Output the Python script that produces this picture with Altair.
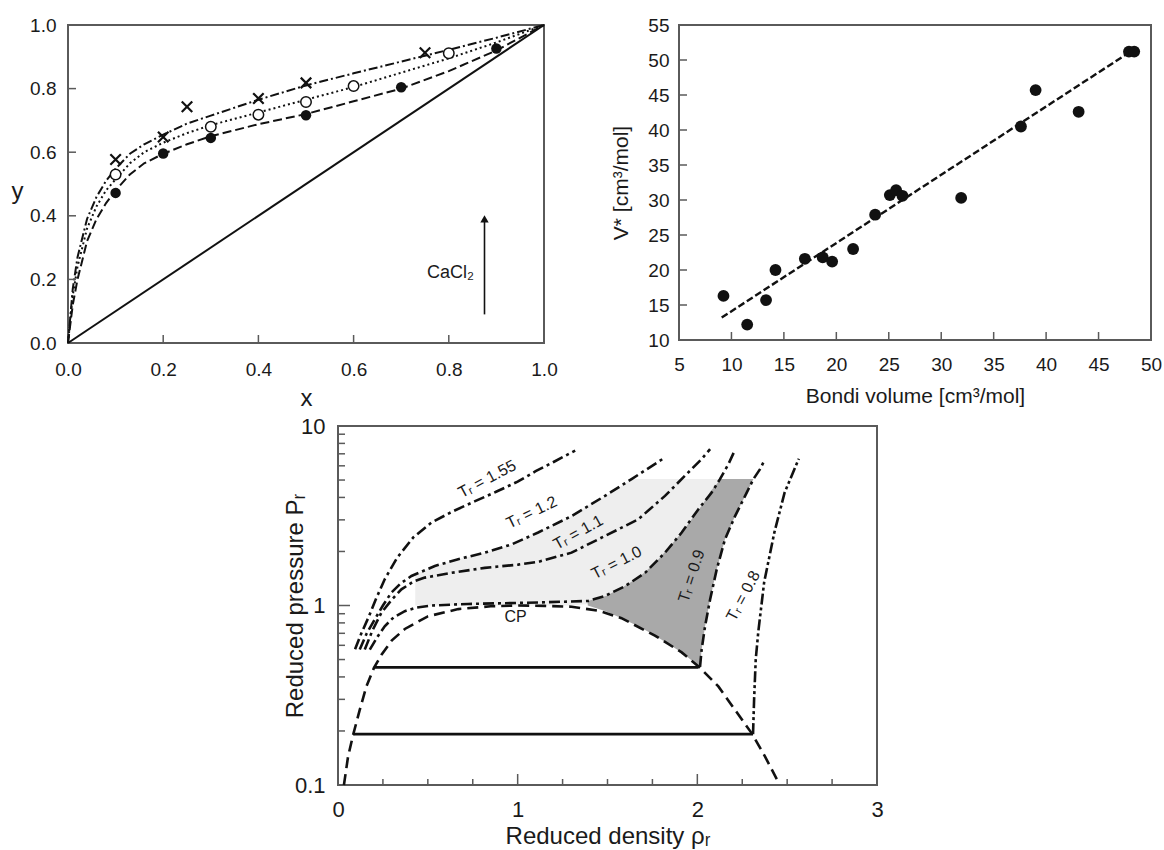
import altair as alt
import pandas as pd

FONT = "Liberation Sans"
TXT = "#1a1a1a"
FRAME = "#5a5a5a"
INK = "#111111"

# ---------------- Panel 1 : y-x diagram ----------------
p1_curve_x = [0, 0.01, 0.02, 0.04, 0.06, 0.08, 0.10, 0.13, 0.16, 0.20, 0.25, 0.30, 0.40, 0.50, 0.60, 0.70, 0.80, 0.90, 1.0]
p1_dashed_y = [0, 0.12, 0.20, 0.32, 0.39, 0.44, 0.48, 0.53, 0.565, 0.595, 0.625, 0.65, 0.688, 0.72, 0.76, 0.80, 0.855, 0.92, 1.0]
p1_dotted_y = [0, 0.15, 0.24, 0.36, 0.43, 0.48, 0.515, 0.565, 0.60, 0.63, 0.66, 0.685, 0.725, 0.765, 0.805, 0.85, 0.895, 0.945, 1.0]
p1_dashdot_y = [0, 0.17, 0.27, 0.39, 0.46, 0.51, 0.548, 0.595, 0.625, 0.655, 0.69, 0.715, 0.765, 0.81, 0.848, 0.885, 0.922, 0.96, 1.0]
diag_x = [0, 1]
diag_y = [0, 1]
filled_x = [0.1, 0.2, 0.3, 0.5, 0.7, 0.9]
filled_y = [0.472, 0.596, 0.645, 0.716, 0.804, 0.926]
open_x = [0.1, 0.3, 0.4, 0.5, 0.6, 0.8]
open_y = [0.530, 0.680, 0.718, 0.758, 0.808, 0.911]
cross_x = [0.1, 0.2, 0.25, 0.4, 0.5, 0.75]
cross_y = [0.577, 0.648, 0.743, 0.769, 0.818, 0.913]
p1_ticks = [0.0, 0.2, 0.4, 0.6, 0.8, 1.0]
p1_inner_ticks = [0.2, 0.4, 0.6, 0.8]
arrow_x = [0.875]
arrow_y0 = [0.09]
arrow_y1 = [0.385]
arrow_head_y = [0.39]
salt_label = ["CaCl₂"]
salt_x = [0.853]
salt_y = [0.22]

# ---------------- Panel 2 : V* vs Bondi volume ----------------
bondi = [9.24, 11.5, 13.3, 14.2, 17.0, 18.7, 19.6, 21.6, 23.7, 25.1, 25.7, 26.3, 31.9, 37.6, 39.0, 43.1, 47.9, 48.4]
vstar = [16.3, 12.2, 15.7, 20.0, 21.6, 21.8, 21.2, 23.0, 27.9, 30.7, 31.4, 30.6, 30.3, 40.5, 45.7, 42.6, 51.2, 51.2]
fit_x = [9.07, 48.05]
fit_y = [13.2, 51.2]
p2_xticks = [5, 10, 15, 20, 25, 30, 35, 40, 45, 50]
p2_yticks = [10, 15, 20, 25, 30, 35, 40, 45, 50, 55]

# ---------------- Panel 3 : reduced P vs reduced density ----------------
coex_x = [0.033, 0.056, 0.084, 0.121, 0.158, 0.20, 0.241, 0.30, 0.372, 0.50, 0.669, 0.85, 1.0, 1.15, 1.30, 1.45, 1.578, 1.764, 1.913, 2.01, 2.117, 2.21, 2.303, 2.377, 2.448]
coex_y = [0.10, 0.144, 0.19, 0.262, 0.354, 0.449, 0.53, 0.64, 0.74, 0.87, 0.955, 0.99, 1.0, 0.995, 0.985, 0.935, 0.85, 0.68, 0.548, 0.455, 0.354, 0.262, 0.194, 0.144, 0.105]
t155_x = [0.095, 0.13, 0.17, 0.21, 0.26, 0.33, 0.42, 0.52, 0.64, 0.76, 0.88, 1.0, 1.1, 1.2, 1.32]
t155_y = [0.57, 0.70, 0.86, 1.08, 1.40, 1.85, 2.4, 2.9, 3.35, 3.8, 4.3, 4.9, 5.6, 6.3, 7.3]
t12_x = [0.121, 0.16, 0.204, 0.25, 0.297, 0.35, 0.409, 0.539, 0.669, 0.817, 0.966, 1.114, 1.30, 1.486, 1.634, 1.82]
t12_y = [0.568, 0.70, 0.835, 1.0, 1.18, 1.33, 1.46, 1.66, 1.81, 1.97, 2.19, 2.55, 3.15, 4.08, 5.06, 6.68]
t11_x = [0.149, 0.19, 0.241, 0.30, 0.353, 0.42, 0.483, 0.631, 0.817, 1.003, 1.114, 1.30, 1.486, 1.671, 1.82, 1.931, 2.024, 2.071]
t11_y = [0.568, 0.72, 0.91, 1.08, 1.23, 1.36, 1.43, 1.52, 1.62, 1.69, 1.75, 1.97, 2.44, 3.02, 4.08, 5.28, 6.54, 7.44]
t10_x = [0.177, 0.22, 0.26, 0.31, 0.372, 0.44, 0.52, 0.724, 0.929, 1.114, 1.393, 1.486, 1.597, 1.709, 1.82, 1.913, 2.006, 2.08, 2.126, 2.173, 2.21]
t10_y = [0.568, 0.67, 0.766, 0.86, 0.93, 0.975, 1.0, 1.02, 1.03, 1.04, 1.06, 1.13, 1.28, 1.52, 1.97, 2.55, 3.44, 4.26, 5.06, 6.13, 7.37]
t09_x = [2.015, 2.024, 2.043, 2.071, 2.108, 2.154, 2.21, 2.266, 2.312, 2.349, 2.377]
t09_y = [0.455, 0.568, 0.766, 1.08, 1.59, 2.34, 3.15, 4.08, 5.06, 5.75, 6.54]
t08_x = [2.31, 2.316, 2.325, 2.339, 2.372, 2.429, 2.486, 2.565]
t08_y = [0.192, 0.30, 0.50, 0.71, 1.35, 2.56, 4.26, 6.58]
tie_x1 = [0.20, 0.084]
tie_x2 = [2.006, 2.31]
tie_y = [0.452, 0.192]
light_x = [0.43, 0.54, 0.67, 0.82, 0.97, 1.11, 1.30, 1.39, 1.49, 1.60, 1.634, 1.71, 1.82, 1.91, 2.006, 2.08, 2.126]
light_lo = [1.0, 1.0, 1.0, 1.0, 1.0, 1.0, 1.0, 1.02, 1.13, 1.28, 1.35, 1.52, 1.97, 2.55, 3.44, 4.26, 5.06]
light_hi = [1.50, 1.66, 1.81, 1.97, 2.19, 2.55, 3.15, 3.6, 4.08, 4.8, 5.06, 5.06, 5.06, 5.06, 5.06, 5.06, 5.06]
dark_x = [1.39, 1.49, 1.578, 1.68, 1.764, 1.85, 1.913, 2.015, 2.024, 2.043, 2.071, 2.108, 2.126, 2.154, 2.21, 2.266, 2.312]
dark_lo = [1.0, 0.93, 0.85, 0.76, 0.68, 0.60, 0.548, 0.455, 0.568, 0.766, 1.08, 1.59, 1.85, 2.34, 3.15, 4.08, 5.06]
dark_hi = [1.06, 1.13, 1.25, 1.45, 1.72, 2.15, 2.55, 3.5, 3.6, 3.85, 4.3, 4.75, 5.06, 5.06, 5.06, 5.06, 5.06]
iso_labels = ["Tᵣ = 1.55", "Tᵣ = 1.2", "Tᵣ = 1.1", "Tᵣ = 1.0", "Tᵣ = 0.9", "Tᵣ = 0.8"]
iso_label_x = [0.83, 1.078, 1.337, 1.551, 1.968, 2.256]
iso_label_y = [5.06, 3.3, 2.55, 1.73, 1.46, 1.13]
iso_label_angle = [332, 334, 331, 333, 288, 298]
cp_x = [0.988]
cp_y = [0.865]
p3_xticks = [0, 1, 2, 3]
p3_yticks = [0.1, 1, 10]
p3_xminor = [0.25, 0.5, 0.75, 1.25, 1.5, 1.75, 2.25, 2.5, 2.75]
p3_xmajor = [1, 2]
p3_yminor = [0.2, 0.3, 0.4, 0.5, 0.6, 0.7, 0.8, 0.9, 2, 3, 4, 5, 6, 7, 8, 9]
p3_ymajor = [1]


def df(**cols):
    return pd.DataFrame(cols)


def make_axis(values, fmt, title, lsize, tsize, **kw):
    return alt.Axis(values=values, format=fmt, title=title, ticks=False, domain=False, grid=False,
                    labelFont=FONT, titleFont=FONT, labelFontSize=lsize, titleFontSize=tsize,
                    labelColor=TXT, titleColor=TXT, titleFontWeight="normal",
                    labelFlush=False, labelOverlap=False, **kw)


# ======== Panel 1 ========
W1, H1 = 476, 318
ax1x = make_axis(p1_ticks, ".1f", "x", 19, 24, labelBaseline="alphabetic", labelPadding=32,
                 titleBaseline="alphabetic", titleX=W1 / 2, titleY=62)
ax1y = make_axis(p1_ticks, ".1f", "y", 19, 24, labelPadding=12, titleAngle=0, titleAlign="center",
                 titleBaseline="middle", titleX=-51, titleY=166)
X1 = alt.X("x:Q", scale=alt.Scale(domain=[0, 1], nice=False), axis=ax1x)
Y1 = alt.Y("y:Q", scale=alt.Scale(domain=[0, 1], nice=False), axis=ax1y)

p1_layers = [
    alt.Chart(df(x=diag_x, y=diag_y)).mark_line(color=INK, strokeWidth=2).encode(x=X1, y=Y1),
    alt.Chart(df(x=p1_curve_x, y=p1_dashed_y)).mark_line(color=INK, strokeWidth=2, strokeDash=[9, 4]).encode(x=X1, y=Y1),
    alt.Chart(df(x=p1_curve_x, y=p1_dotted_y)).mark_line(color=INK, strokeWidth=2, strokeDash=[2, 3]).encode(x=X1, y=Y1),
    alt.Chart(df(x=p1_curve_x, y=p1_dashdot_y)).mark_line(color=INK, strokeWidth=2, strokeDash=[9, 3, 2, 3]).encode(x=X1, y=Y1),
    alt.Chart(df(x=filled_x, y=filled_y)).mark_point(shape="circle", filled=True, color=INK, size=110, opacity=1).encode(x=X1, y=Y1),
    alt.Chart(df(x=open_x, y=open_y)).mark_point(shape="circle", filled=True, fill="white", stroke=INK, strokeWidth=1.5, size=110, opacity=1).encode(x=X1, y=Y1),
    alt.Chart(df(x=cross_x, y=cross_y)).mark_point(shape="M-1,-1L1,1M-1,1L1,-1", filled=False, stroke=INK, strokeWidth=2.2, size=110, opacity=1).encode(x=X1, y=Y1),
    alt.Chart(df(x=p1_inner_ticks)).mark_rule(color=FRAME, strokeWidth=1.5).encode(x=X1, y=alt.value(H1), y2=alt.value(H1 - 8)),
    alt.Chart(df(y=p1_inner_ticks)).mark_rule(color=FRAME, strokeWidth=1.5).encode(y=Y1, x=alt.value(0), x2=alt.value(8)),
    alt.Chart(df(x=arrow_x, y=arrow_y0, y2=arrow_y1)).mark_rule(color=INK, strokeWidth=1.6).encode(x=X1, y=Y1, y2="y2:Q"),
    alt.Chart(df(x=arrow_x, y=arrow_head_y)).mark_point(shape="triangle-up", filled=True, color=INK, size=70, opacity=1).encode(x=X1, y=Y1),
    alt.Chart(df(x=salt_x, y=salt_y, t=salt_label)).mark_text(align="right", baseline="middle", font=FONT, fontSize=18, color=TXT).encode(x=X1, y=Y1, text="t:N"),
]
p1 = alt.layer(*p1_layers).properties(width=W1, height=H1)

# ======== Panel 2 ========
W2, H2 = 472, 315
ax2x = make_axis(p2_xticks, "d", "Bondi volume [cm³/mol]", 19, 21, labelBaseline="alphabetic", labelPadding=30,
                 titleBaseline="alphabetic", titleX=W2 / 2, titleY=62)
ax2y = make_axis(p2_yticks, "d", "V* [cm³/mol]", 19, 21, labelPadding=10, titleX=-58, titleY=H2 / 2,
                 titleBaseline="middle", titleAlign="center")
X2 = alt.X("x:Q", scale=alt.Scale(domain=[5, 50], nice=False), axis=ax2x)
Y2 = alt.Y("y:Q", scale=alt.Scale(domain=[10, 55], nice=False), axis=ax2y)
p2_layers = [
    alt.Chart(df(x=fit_x, y=fit_y)).mark_line(color=INK, strokeWidth=2.4, strokeDash=[7, 3]).encode(x=X2, y=Y2),
    alt.Chart(df(x=bondi, y=vstar)).mark_point(shape="circle", filled=True, color=INK, size=140, opacity=1).encode(x=X2, y=Y2),
    alt.Chart(df(x=p2_xticks[1:-1])).mark_rule(color=FRAME, strokeWidth=1.5).encode(x=X2, y=alt.value(H2), y2=alt.value(H2 - 8)),
    alt.Chart(df(y=p2_yticks[1:-1])).mark_rule(color=FRAME, strokeWidth=1.5).encode(y=Y2, x=alt.value(0), x2=alt.value(8)),
]
p2 = alt.layer(*p2_layers).properties(width=W2, height=H2)

# ======== Panel 3 ========
W3, H3 = 539, 359
ax3x = make_axis(p3_xticks, "d", "Reduced density ρᵣ", 22, 24, labelBaseline="alphabetic", labelPadding=31,
                 titleBaseline="alphabetic", titleX=W3 / 2, titleY=58)
ax3y = make_axis(p3_yticks, "~g", "Reduced pressure Pᵣ", 22, 24, labelPadding=13, titleX=-43, titleY=H3 / 2,
                 titleBaseline="middle", titleAlign="center")
X3 = alt.X("x:Q", scale=alt.Scale(domain=[0, 3], nice=False), axis=ax3x)
Y3 = alt.Y("y:Q", scale=alt.Scale(type="log", domain=[0.1, 10], nice=False), axis=ax3y)

iso_style = dict(color=INK, strokeWidth=2.6, strokeDash=[11, 4, 3, 4])
p3_layers = [
    alt.Chart(df(x=light_x, y=light_lo, y2=light_hi)).mark_area(color="#eeeeee", opacity=1).encode(x=X3, y=Y3, y2="y2:Q"),
    alt.Chart(df(x=dark_x, y=dark_lo, y2=dark_hi)).mark_area(color="#a9a9a9", opacity=1).encode(x=X3, y=Y3, y2="y2:Q"),
    alt.Chart(df(x=tie_x1, x2=tie_x2, y=tie_y)).mark_rule(color=INK, strokeWidth=2.6).encode(x=X3, x2="x2:Q", y=Y3),
    alt.Chart(df(x=coex_x, y=coex_y)).mark_line(color=INK, strokeWidth=2.6, strokeDash=[11, 6]).encode(x=X3, y=Y3),
    alt.Chart(df(x=t155_x, y=t155_y)).mark_line(**iso_style).encode(x=X3, y=Y3),
    alt.Chart(df(x=t12_x, y=t12_y)).mark_line(**iso_style).encode(x=X3, y=Y3),
    alt.Chart(df(x=t11_x, y=t11_y)).mark_line(**iso_style).encode(x=X3, y=Y3),
    alt.Chart(df(x=t10_x, y=t10_y)).mark_line(**iso_style).encode(x=X3, y=Y3),
    alt.Chart(df(x=t09_x, y=t09_y)).mark_line(**iso_style).encode(x=X3, y=Y3),
    alt.Chart(df(x=t08_x, y=t08_y)).mark_line(color=INK, strokeWidth=2.6, strokeDash=[11, 3, 3, 3, 3, 3]).encode(x=X3, y=Y3),
    alt.Chart(df(x=p3_xminor)).mark_rule(color=FRAME, strokeWidth=1.5).encode(x=X3, y=alt.value(H3), y2=alt.value(H3 - 6)),
    alt.Chart(df(x=p3_xmajor)).mark_rule(color=FRAME, strokeWidth=1.5).encode(x=X3, y=alt.value(H3), y2=alt.value(H3 - 11)),
    alt.Chart(df(y=p3_yminor)).mark_rule(color=FRAME, strokeWidth=1.5).encode(y=Y3, x=alt.value(0), x2=alt.value(7)),
    alt.Chart(df(y=p3_ymajor)).mark_rule(color=FRAME, strokeWidth=1.5).encode(y=Y3, x=alt.value(0), x2=alt.value(12)),
    alt.Chart(df(x=cp_x, y=cp_y, t=["CP"])).mark_text(font=FONT, fontSize=16, color=TXT, baseline="middle").encode(x=X3, y=Y3, text="t:N"),
]
for i in range(len(iso_labels)):
    p3_layers.append(
        alt.Chart(df(x=[iso_label_x[i]], y=[iso_label_y[i]], t=[iso_labels[i]]))
        .mark_text(font=FONT, fontSize=16, color=TXT, baseline="middle", align="center", angle=iso_label_angle[i])
        .encode(x=X3, y=Y3, text="t:N")
    )
p3 = alt.layer(*p3_layers).properties(width=W3, height=H3)

spacer = (
    alt.Chart(df(x=[0]))
    .mark_point(opacity=0)
    .encode(x=alt.X("x:Q", axis=None), y=alt.Y("x:Q", axis=None))
    .properties(width=140, height=10, view=alt.ViewBackground(stroke="transparent"))
)

top_row = alt.hconcat(p1, p2, spacing=135, bounds="flush")
bottom_row = alt.hconcat(spacer, p3, spacing=130, bounds="flush")

chart = (
    alt.vconcat(top_row, bottom_row, spacing=3)
    .properties(padding={"left": 10, "top": 15, "right": 0, "bottom": 0}, background="white")
    .configure_view(stroke=FRAME, strokeWidth=2)
)

chart.save("out.html", embed_options={"renderer": "svg", "actions": False})
